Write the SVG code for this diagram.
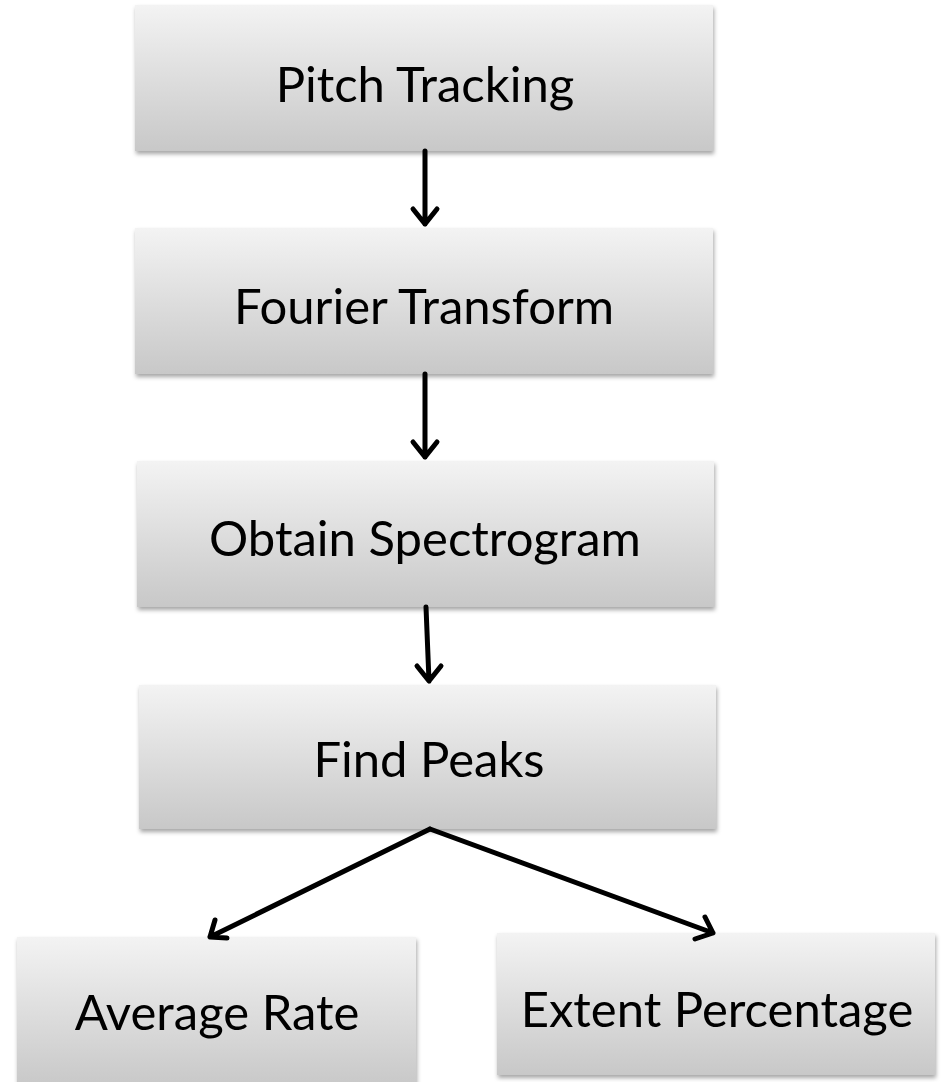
<svg xmlns="http://www.w3.org/2000/svg" width="942" height="1082" viewBox="0 0 942 1082">
<defs>
<linearGradient id="g" x1="0" y1="0" x2="0" y2="1">
<stop offset="0" stop-color="#f3f3f3"/>
<stop offset="1" stop-color="#c8c8c8"/>
</linearGradient>
<filter id="sh" x="-5%" y="-5%" width="110%" height="115%">
<feDropShadow dx="1" dy="3" stdDeviation="2" flood-color="#000" flood-opacity="0.35"/>
</filter>
</defs>
<style>
.box{fill:url(#g);filter:url(#sh);}
.t{font-family:Lato,"Open Sans",sans-serif;font-size:49px;fill:#000;text-anchor:middle;}
.c{stroke:#000;stroke-width:5;fill:none;stroke-linecap:round;stroke-linejoin:round;}
</style>
<rect width="942" height="1082" fill="#fff"/>
<g id="n1"><rect class="box" x="135" y="5" width="578" height="146"/><text class="t" x="425" y="102">Pitch Tracking</text></g>
<g id="n2"><rect class="box" x="135" y="228" width="578" height="146"/><text class="t" x="424" y="324">Fourier Transform</text></g>
<g id="n3"><rect class="box" x="137" y="461" width="577" height="146"/><text class="t" x="425" y="556">Obtain Spectrogram</text></g>
<g id="n4"><rect class="box" x="139" y="685" width="577" height="144"/><text class="t" x="429" y="777">Find Peaks</text></g>
<g id="n5"><rect class="box" x="17" y="937" width="399" height="150"/><text class="t" x="217" y="1030">Average Rate</text></g>
<g id="n6"><rect class="box" x="497" y="933" width="438" height="142"/><text class="t" x="717" y="1027">Extent Percentage</text></g>
<g id="connectors">
<path class="c" d="M425,151 L425,224 M413,209 L425,224 L437,209"/>
<path class="c" d="M425,374 L425,457 M413,442 L425,457 L437,442"/>
<path class="c" d="M426,607 L429,681 M417,666 L429,681 L441,666"/>
<path class="c" d="M430,829 L210,937 M215,920 L210,937 L227,938"/>
<path class="c" d="M430,829 L713,933 M695,939 L713,933 L705,917"/>
</g>
</svg>
